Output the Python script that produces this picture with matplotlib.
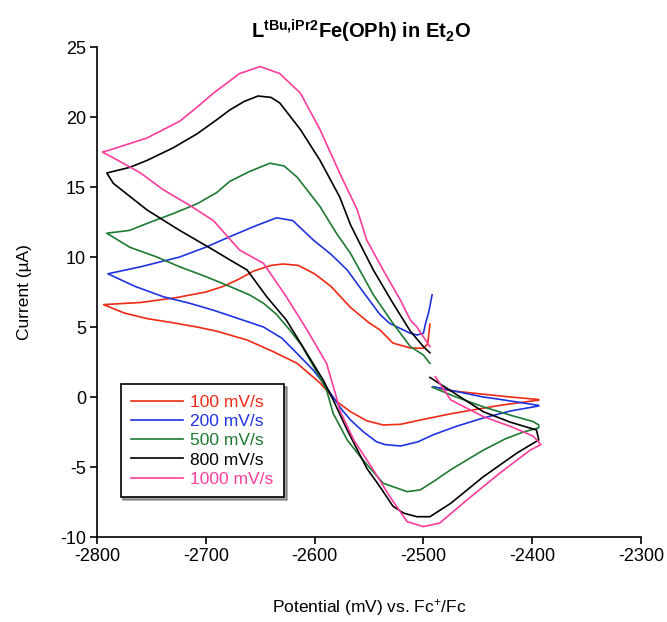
import matplotlib
matplotlib.use("Agg")
import matplotlib.pyplot as plt

plt.rcParams['font.family'] = ['Liberation Sans', 'DejaVu Sans']
plt.rcParams['mathtext.fontset'] = 'custom'
plt.rcParams['mathtext.rm'] = 'Liberation Sans'
plt.rcParams['mathtext.it'] = 'Liberation Sans:italic'
plt.rcParams['mathtext.bf'] = 'Liberation Sans:bold'
plt.rcParams['axes.unicode_minus'] = False

labels = ["100 mV/s", "200 mV/s", "500 mV/s", "800 mV/s", "1000 mV/s"]
colors = ["#ee2a14", "#1f34e0", "#1d7a32", "#000000", "#fb3c9c"]

# 100 mV/s
x100 = [-2485, -2475, -2445, -2420, -2394,
        -2394, -2430, -2475, -2500, -2521, -2537, -2552, -2567, -2580, -2595, -2616,
        -2638, -2662, -2690, -2708, -2730, -2754, -2775, -2794,
        -2760, -2727, -2700, -2684, -2670, -2656, -2640, -2629, -2615, -2600, -2585,
        -2567, -2550, -2540, -2528, -2512, -2500, -2496, -2494]
y100 = [0.6, 0.45, 0.2, 0.0, -0.18,
        -0.22, -0.6, -1.2, -1.6, -1.95, -2.0, -1.7, -1.05, -0.3, 1.0, 2.4,
        3.24, 4.07, 4.7, 5.0, 5.3, 5.6, 6.0, 6.6,
        6.75, 7.1, 7.5, 7.9, 8.4, 9.0, 9.4, 9.5, 9.4, 8.8, 7.9,
        6.4, 5.3, 4.8, 3.85, 3.5, 3.48, 3.8, 5.2]

# 200 mV/s
x200 = [-2491, -2470, -2445, -2432, -2394,
        -2394, -2420, -2445, -2470, -2491, -2505, -2521, -2535, -2543, -2555, -2567,
        -2575, -2583, -2592, -2601, -2616, -2630, -2647, -2670, -2693, -2715, -2739,
        -2765, -2790,
        -2760, -2724, -2700, -2678, -2655, -2635, -2620, -2601, -2585, -2570, -2560,
        -2552, -2540, -2531, -2512, -2506, -2500, -2498, -2495, -2492]
y200 = [0.74, 0.4, 0.0, -0.14, -0.6,
        -0.64, -1.0, -1.5, -2.1, -2.7, -3.2, -3.5, -3.4, -3.2, -2.5, -1.64,
        -0.9, 0.0, 1.0, 1.9, 3.1, 4.2, 5.0, 5.6, 6.2, 6.7, 7.16,
        7.9, 8.8,
        9.3, 10.0, 10.7, 11.45, 12.2, 12.8, 12.6, 11.2, 10.2, 9.07, 8.0,
        7.16, 5.9, 5.26, 4.55, 4.43, 4.55, 5.26, 6.1, 7.3]

# 500 mV/s
x500 = [-2492, -2470, -2445, -2420, -2399, -2394,
        -2394, -2408, -2425, -2445, -2475, -2490, -2503, -2515, -2537, -2550, -2558,
        -2570, -2583, -2589, -2596, -2604, -2612, -2623, -2635, -2647, -2660, -2678,
        -2700, -2724, -2745, -2770, -2791,
        -2770, -2754, -2730, -2708, -2690, -2678, -2660, -2641, -2628, -2616, -2595,
        -2580, -2567, -2546, -2528, -2512, -2500, -2494]
y500 = [0.7, 0.0, -0.7, -1.3, -1.76, -2.0,
        -2.2, -2.5, -3.0, -3.8, -5.2, -6.0, -6.64, -6.76, -6.16, -5.0, -4.26,
        -3.07, -1.16, 0.5, 1.5, 2.6, 3.7, 4.8, 5.9, 6.7, 7.3, 7.9,
        8.6, 9.3, 10.0, 10.7, 11.7,
        11.9, 12.4, 13.1, 13.8, 14.6, 15.4, 16.1, 16.7, 16.5, 15.7, 13.6,
        11.7, 10.26, 7.3, 5.26, 3.6, 3.0, 2.4]

# 800 mV/s
x800 = [-2494, -2470, -2445, -2420, -2396,
        -2394, -2399, -2414, -2445, -2475, -2494, -2506, -2518, -2528, -2540, -2552,
        -2570, -2583, -2592, -2607, -2626, -2644, -2662, -2678, -2693, -2724, -2754,
        -2785, -2791,
        -2770, -2754, -2730, -2708, -2690, -2678, -2665, -2652, -2640, -2632, -2613,
        -2595, -2577, -2567, -2558, -2546, -2528, -2512, -2500, -2494]
y800 = [1.4, 0.2, -1.05, -1.8, -2.36,
        -3.07, -3.3, -4.0, -5.7, -7.6, -8.55, -8.55, -8.3, -7.8, -6.4, -5.1,
        -2.36, -0.2, 1.2, 3.1, 5.5, 7.16, 9.07, 9.8, 10.5, 11.9, 13.36,
        15.26, 16.0,
        16.4, 16.9, 17.8, 18.8, 19.8, 20.5, 21.1, 21.5, 21.4, 21.0, 19.1,
        16.9, 14.3, 12.3, 10.9, 9.07, 6.7, 4.7, 3.6, 3.16]

# 1000 mV/s
x1000 = [-2489, -2475, -2445, -2420, -2399, -2392,
         -2402, -2430, -2460, -2485, -2500, -2515, -2531, -2546, -2552, -2564,
         -2577, -2580, -2589, -2607, -2626, -2647, -2669, -2693, -2715, -2739,
         -2760, -2776, -2795,
         -2790, -2754, -2724, -2708, -2693, -2669, -2650, -2632, -2613, -2595,
         -2577, -2561, -2552, -2537, -2521, -2512, -2506, -2497, -2494]
y1000 = [1.45, -0.2, -1.4, -2.1, -2.8, -3.4,
         -3.8, -5.45, -7.36, -9.0, -9.26, -8.9, -7.1, -5.2, -4.5, -3.07,
         -0.93, 0.0, 2.4, 4.8, 7.16, 9.55, 10.5, 12.6, 13.7, 14.8,
         16.0, 16.7, 17.5,
         17.6, 18.5, 19.7, 20.7, 21.7, 23.1, 23.6, 23.1, 21.7, 19.1,
         16.0, 13.4, 11.2, 9.07, 6.9, 5.5, 5.0, 3.95, 3.6]

xticks = [-2800, -2700, -2600, -2500, -2400, -2300]
yticks = [-10, -5, 0, 5, 10, 15, 20, 25]

fig = plt.figure(figsize=(6.67, 6.22), dpi=100)
ax = fig.add_axes([97/667, 85/622, 544/667, 490/622])

series = [(x100, y100), (x200, y200), (x500, y500), (x800, y800), (x1000, y1000)]
for (xs, ys), c, lab in zip(series, colors, labels):
    ax.plot(xs, ys, color=c, lw=1.2, label=lab)

ax.set_xlim(-2800, -2300)
ax.set_ylim(-10, 25)
ax.set_xticks(xticks)
ax.set_yticks(yticks)
ax.spines['top'].set_visible(False)
ax.spines['right'].set_visible(False)
for s in ('left', 'bottom'):
    ax.spines[s].set_linewidth(1.2)
ax.tick_params(direction='out', length=5, width=1.2, labelsize=13, pad=3)

ax.set_xlabel('Potential (mV) vs. Fc$^{+}$/Fc', fontsize=12.5, labelpad=23)
ax.set_ylabel('Current (µA)', fontsize=12.5, labelpad=20)
ax.set_title(r'$\mathbf{L^{tBu{,}iPr2}Fe(OPh)\ in\ Et_{2}O}$', fontsize=14.5, pad=6, x=0.485)

leg = ax.legend(loc='lower left', bbox_to_anchor=(0.0436, 0.081), borderaxespad=0,
                fontsize=12.5, handlelength=3.0, handletextpad=0.4,
                labelspacing=0.24, frameon=True, fancybox=False, shadow=True,
                edgecolor='black', labelcolor='linecolor', borderpad=0.6)
leg.get_frame().set_linewidth(1.2)

fig.savefig('out.png', dpi=100)
